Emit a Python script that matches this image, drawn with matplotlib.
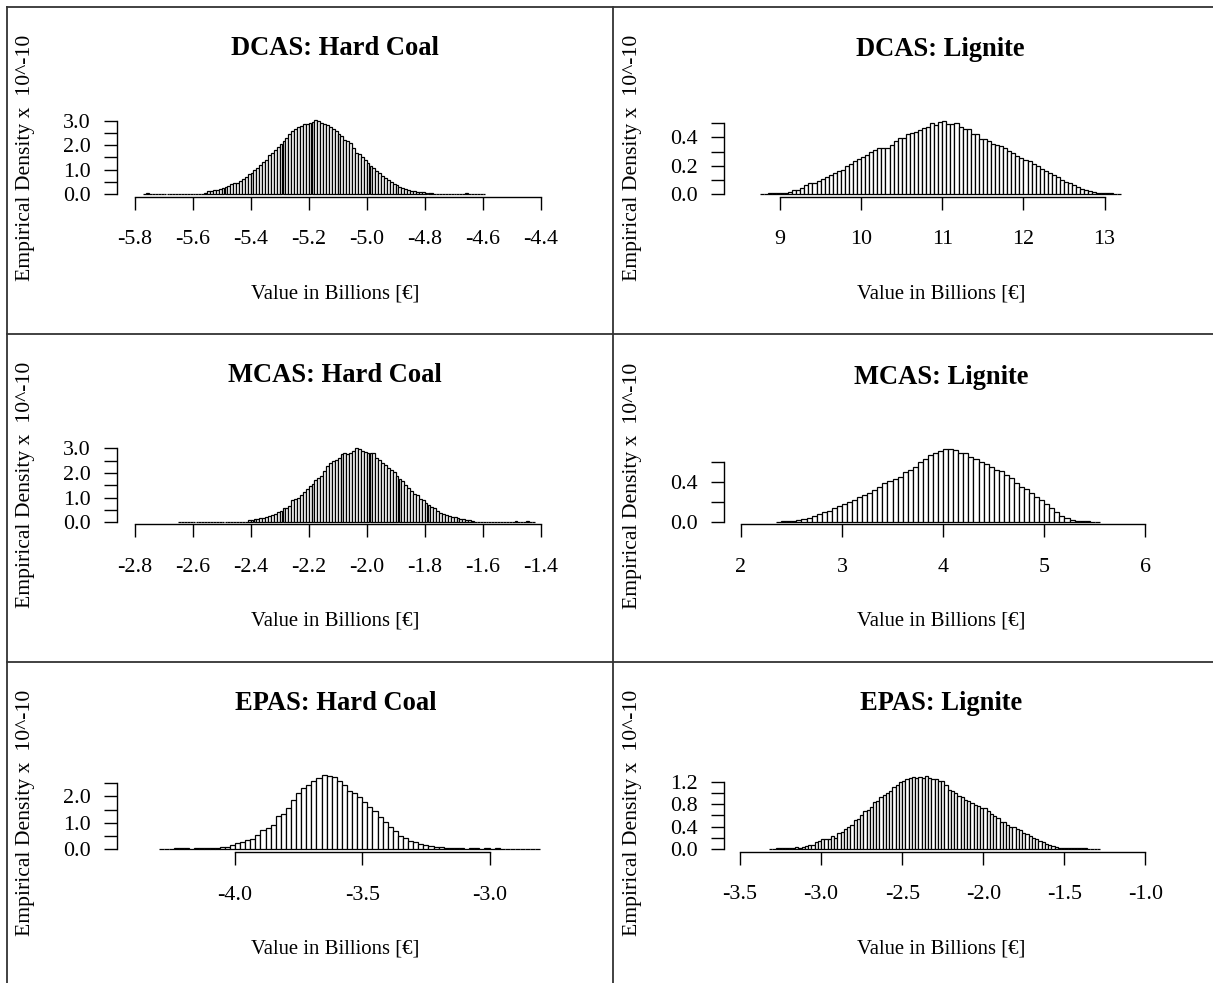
import numpy as np
import matplotlib
matplotlib.use("Agg")
import matplotlib.pyplot as plt
from matplotlib.lines import Line2D

plt.rcParams['font.family'] = ['Liberation Serif', 'DejaVu Serif']
plt.rcParams['axes.unicode_minus'] = False

# ---------------- data (histogram densities x 10^-10) ----------------
titles = ["DCAS: Hard Coal", "DCAS: Lignite", "MCAS: Hard Coal",
          "MCAS: Lignite", "EPAS: Hard Coal", "EPAS: Lignite"]

# DCAS hard coal: bins of 0.01 starting at -5.77
dcas_hc_start, dcas_hc_width = -5.77, 0.01
dcas_hc = [0.0, 0.05, 0.0, 0.0, 0.0, 0.0, 0.0,
           0.01, 0.02, 0.01, 0.01, 0.02, 0.01, 0.01, 0.02, 0.01, 0.02, 0.01, 0.01, 0.02, 0.02, 0.03,
           0.11, 0.14, 0.16, 0.17, 0.19, 0.24, 0.29, 0.32, 0.41, 0.44,
           0.47, 0.53, 0.62, 0.70, 0.80, 0.88, 0.97, 1.07, 1.19, 1.31,
           1.41, 1.58, 1.68, 1.80, 1.92, 2.05, 2.18, 2.31, 2.44, 2.56,
           2.68, 2.74, 2.77, 2.87, 2.88, 2.91, 2.93, 3.01, 2.97, 2.90,
           2.85, 2.81, 2.75, 2.67, 2.58, 2.46, 2.36, 2.20, 2.15, 2.08,
           1.90, 1.68, 1.62, 1.50, 1.38, 1.28, 1.16, 1.07, 0.95, 0.85,
           0.75, 0.66, 0.56, 0.48, 0.42, 0.35, 0.29, 0.24, 0.19, 0.16,
           0.14, 0.12, 0.10, 0.08, 0.07,
           0.05, 0.04, 0.03, 0.02, 0.02, 0.02, 0.02, 0.02, 0.02, 0.02, 0.02,
           0.02, 0.02, 0.02, 0.05, 0.01, 0.01, 0.01, 0.01, 0.01, 0.01]

# DCAS lignite: bins of 0.05 starting at 8.75
dcas_lig_start, dcas_lig_width = 8.75, 0.05
dcas_lig = [0.003, 0.003, 0.004, 0.004, 0.005, 0.005, 0.006,
            0.017, 0.028, 0.030, 0.040, 0.064, 0.078, 0.080, 0.090, 0.106, 0.118,
            0.135, 0.147, 0.165, 0.170, 0.200, 0.210, 0.230, 0.248, 0.265, 0.277,
            0.296, 0.310, 0.323, 0.326, 0.328, 0.343, 0.378, 0.393, 0.397, 0.424,
            0.428, 0.437, 0.456, 0.468, 0.477, 0.503, 0.490, 0.510, 0.516, 0.497,
            0.497, 0.499, 0.477, 0.460, 0.458, 0.426, 0.426, 0.390, 0.388, 0.373,
            0.352, 0.348, 0.336, 0.324, 0.305, 0.293, 0.270, 0.253, 0.239, 0.230,
            0.210, 0.195, 0.180, 0.160, 0.150, 0.135, 0.120, 0.100, 0.087, 0.075,
            0.062, 0.048, 0.038, 0.028, 0.020, 0.012, 0.008, 0.005, 0.004, 0.004,
            0.003, 0.003]

# MCAS hard coal: bins of 0.01 starting at -2.65
mcas_hc_start, mcas_hc_width = -2.65, 0.01
mcas_hc = [0.01, 0.01, 0.01, 0.01, 0.01, 0.01, 0.01,
           0.02, 0.02, 0.03, 0.02, 0.02, 0.03, 0.02, 0.02, 0.02, 0.03, 0.02, 0.02, 0.03, 0.02, 0.03, 0.03, 0.03,
           0.10, 0.11, 0.12, 0.13, 0.16, 0.19, 0.23, 0.27, 0.31, 0.35,
           0.40, 0.46, 0.56, 0.59, 0.68, 0.90, 0.95, 1.00, 1.10, 1.22,
           1.36, 1.48, 1.57, 1.72, 1.80, 1.87, 2.08, 2.30, 2.40, 2.47,
           2.54, 2.62, 2.76, 2.79, 2.77, 2.80, 2.88, 3.00, 2.97, 2.90,
           2.85, 2.80, 2.79, 2.82, 2.60, 2.52, 2.42, 2.32, 2.20, 2.10,
           2.02, 1.88, 1.76, 1.66, 1.52, 1.38, 1.25, 1.14, 1.10, 0.95,
           0.92, 0.80, 0.70, 0.61, 0.57, 0.45, 0.38, 0.34, 0.29, 0.25,
           0.23, 0.20, 0.17, 0.15, 0.12, 0.10, 0.08, 0.06,
           0.02, 0.02, 0.02, 0.02, 0.02, 0.02, 0.02, 0.02, 0.02, 0.02, 0.02, 0.02, 0.02, 0.02,
           0.04, 0.0, 0.01, 0.0, 0.04, 0.01, 0.01]

# MCAS lignite: bins of 0.05 starting at 2.35
mcas_lig_start, mcas_lig_width = 2.35, 0.05
mcas_lig = [0.004, 0.010, 0.012, 0.012, 0.020,
            0.033, 0.047, 0.063, 0.083, 0.107, 0.117, 0.140, 0.167, 0.183, 0.200,
            0.223, 0.250, 0.273, 0.297, 0.323, 0.357, 0.397, 0.417, 0.430, 0.450,
            0.500, 0.523, 0.557, 0.600, 0.633, 0.673, 0.697, 0.713, 0.733, 0.730,
            0.723, 0.697, 0.697, 0.657, 0.633, 0.607, 0.583, 0.557, 0.523, 0.513,
            0.473, 0.447, 0.397, 0.350, 0.330, 0.290, 0.257, 0.223,
            0.180, 0.140, 0.100, 0.065, 0.040, 0.025, 0.013, 0.010, 0.010, 0.005, 0.003]

# EPAS hard coal: bins of 0.02 starting at -4.30
epas_hc_start, epas_hc_width = -4.30, 0.02
epas_hc = [0.0, 0.0,
           0.01, 0.02, 0.02, 0.02, 0.01, 0.02, 0.02, 0.03, 0.02, 0.03,
           0.09, 0.09, 0.14, 0.22, 0.28, 0.33, 0.38, 0.55, 0.74, 0.80,
           0.93, 1.24, 1.35, 1.56, 1.88, 2.13, 2.32, 2.42, 2.58, 2.70,
           2.80, 2.77, 2.73, 2.60, 2.45, 2.22, 2.13, 1.97, 1.79, 1.59,
           1.43, 1.21, 1.03, 0.82, 0.70, 0.48, 0.42, 0.32, 0.27, 0.19,
           0.17, 0.13, 0.09, 0.06,
           0.03, 0.02, 0.02, 0.02, 0.01, 0.02, 0.02, 0.01, 0.02, 0.01,
           0.05, 0.0, 0.0, 0.0, 0.0, 0.0, 0.0, 0.0, 0.0]

# EPAS lignite: bins of 0.02 starting at -3.32
epas_lig_start, epas_lig_width = -3.32, 0.02
epas_lig = [0.005, 0.005, 0.01, 0.01, 0.02, 0.02, 0.01, 0.02, 0.03, 0.02, 0.03,
            0.05, 0.08, 0.08, 0.12, 0.15, 0.17, 0.17, 0.18, 0.23, 0.20,
            0.29, 0.31, 0.36, 0.39, 0.43, 0.52, 0.54, 0.61, 0.68, 0.70,
            0.75, 0.84, 0.85, 0.92, 0.96, 1.00, 1.04, 1.10, 1.15, 1.19,
            1.22, 1.24, 1.27, 1.28, 1.27, 1.28, 1.27, 1.31, 1.27, 1.25,
            1.24, 1.22, 1.21, 1.15, 1.06, 1.03, 1.00, 0.94, 0.92, 0.88,
            0.85, 0.82, 0.78, 0.76, 0.74, 0.73, 0.67, 0.63, 0.58, 0.55,
            0.49, 0.48, 0.42, 0.40, 0.39, 0.36, 0.33, 0.29, 0.27, 0.23,
            0.20, 0.18, 0.15,
            0.12, 0.09, 0.07, 0.05, 0.03, 0.02,
            0.01, 0.01, 0.01, 0.01, 0.01, 0.01, 0.01, 0.01, 0.005, 0.005, 0.005, 0.005]

# axis ticks
x_ticks = [[-5.8, -5.6, -5.4, -5.2, -5.0, -4.8, -4.6, -4.4],
           [9, 10, 11, 12, 13],
           [-2.8, -2.6, -2.4, -2.2, -2.0, -1.8, -1.6, -1.4],
           [2, 3, 4, 5, 6],
           [-4.0, -3.5, -3.0],
           [-3.5, -3.0, -2.5, -2.0, -1.5, -1.0]]
x_ticklabels = [["-5.8", "-5.6", "-5.4", "-5.2", "-5.0", "-4.8", "-4.6", "-4.4"],
                ["9", "10", "11", "12", "13"],
                ["-2.8", "-2.6", "-2.4", "-2.2", "-2.0", "-1.8", "-1.6", "-1.4"],
                ["2", "3", "4", "5", "6"],
                ["-4.0", "-3.5", "-3.0"],
                ["-3.5", "-3.0", "-2.5", "-2.0", "-1.5", "-1.0"]]
y_ticks = [[0.0, 0.5, 1.0, 1.5, 2.0, 2.5, 3.0],
           [0.0, 0.1, 0.2, 0.3, 0.4, 0.5],
           [0.0, 0.5, 1.0, 1.5, 2.0, 2.5, 3.0],
           [0.0, 0.2, 0.4, 0.6],
           [0.0, 0.5, 1.0, 1.5, 2.0, 2.5],
           [0.0, 0.2, 0.4, 0.6, 0.8, 1.0, 1.2]]
y_ticklabels = [["0.0", "", "1.0", "", "2.0", "", "3.0"],
                ["0.0", "", "0.2", "", "0.4", ""],
                ["0.0", "", "1.0", "", "2.0", "", "3.0"],
                ["0.0", "", "0.4", ""],
                ["0.0", "", "1.0", "", "2.0", ""],
                ["0.0", "", "0.4", "", "0.8", "", "1.2"]]

hists = [(dcas_hc_start, dcas_hc_width, dcas_hc),
         (dcas_lig_start, dcas_lig_width, dcas_lig),
         (mcas_hc_start, mcas_hc_width, mcas_hc),
         (mcas_lig_start, mcas_lig_width, mcas_lig),
         (epas_hc_start, epas_hc_width, epas_hc),
         (epas_lig_start, epas_lig_width, epas_lig)]

# ---------------- layout (pixels) ----------------
W, H = 1213, 983
boxes = [(116.7, 554, 118.3, 196.7, -5.8, 134.6, 290.0, 194.0, 24.43),
         (723.5, 1158, 120.0, 196.7, 9.0, 780.0, 81.15, 194.0, 141.4),
         (116.7, 554, 445.7, 524.3, -2.8, 134.6, 290.0, 522.3, 24.67),
         (723.5, 1158, 447.0, 524.3, 2.0, 740.8, 101.15, 522.3, 100.0),
         (116.7, 554, 774.0, 852.0, -4.0, 235.0, 254.5, 849.0, 26.28),
         (723.5, 1158, 773.3, 851.7, -3.5, 740.0, 162.2, 849.0, 56.08)]

fig = plt.figure(figsize=(W / 100, H / 100), dpi=100)

PT = 72 / 100  # points per pixel
fs_tick = 22 * PT
fs_xlab = 20.8 * PT
fs_ylab = 21.6 * PT
fs_title = 26.5 * PT

for i, (L, R, T, B, xr, xrp, xs, y0p, ys) in enumerate(boxes):
    ax = fig.add_axes([L / W, 1 - B / H, (R - L) / W, (B - T) / H])
    ax.set_xlim(xr + (L - xrp) / xs, xr + (R - xrp) / xs)
    ax.set_ylim((y0p - B) / ys, (y0p - T) / ys)
    start, width, heights = hists[i]
    edges = start + width * np.arange(len(heights))
    ax.bar(edges, heights, width=width, align='edge', facecolor='white',
           edgecolor='black', linewidth=0.9, clip_on=False)
    for s in ['top', 'right']:
        ax.spines[s].set_visible(False)
    ax.spines['left'].set_bounds(y_ticks[i][0], y_ticks[i][-1])
    ax.spines['bottom'].set_bounds(x_ticks[i][0], x_ticks[i][-1])
    for s in ['left', 'bottom']:
        ax.spines[s].set_linewidth(1.0)
    ax.set_xticks(x_ticks[i])
    ax.set_xticklabels(x_ticklabels[i])
    ax.set_yticks(y_ticks[i])
    ax.set_yticklabels(y_ticklabels[i])
    ax.tick_params(axis='x', direction='out', length=13.5 * PT, width=1.0,
                   pad=14.5, labelsize=fs_tick)
    ax.tick_params(axis='y', direction='out', length=13.5 * PT, width=1.0,
                   pad=9.0, labelsize=fs_tick)
    ax.patch.set_visible(False)

    cx = (L + R) / 2
    fig.text(cx / W, 1 - (T - 70) / H, titles[i], ha='center', va='center',
             fontsize=fs_title, fontweight='bold')
    fig.text(cx / W, 1 - (B + 97) / H, "Value in Billions [\u20ac]", ha='center',
             va='center', fontsize=fs_xlab)
    fig.text((L - 91) / W, 1 - ((T + B) / 2) / H, "Empirical Density x  10^-10",
             ha='center', va='center', rotation=90, fontsize=fs_ylab)

# panel borders
border_kw = dict(color='#333333', linewidth=1.3)
fig.add_artist(Line2D([7 / W, 1], [1 - 7 / H, 1 - 7 / H], **border_kw))
fig.add_artist(Line2D([7 / W, 1], [1 - 334 / H, 1 - 334 / H], **border_kw))
fig.add_artist(Line2D([7 / W, 1], [1 - 662 / H, 1 - 662 / H], **border_kw))
fig.add_artist(Line2D([7 / W, 7 / W], [0, 1 - 7 / H], **border_kw))
fig.add_artist(Line2D([613 / W, 613 / W], [0, 1 - 7 / H], **border_kw))

fig.savefig("out.png", dpi=100)
